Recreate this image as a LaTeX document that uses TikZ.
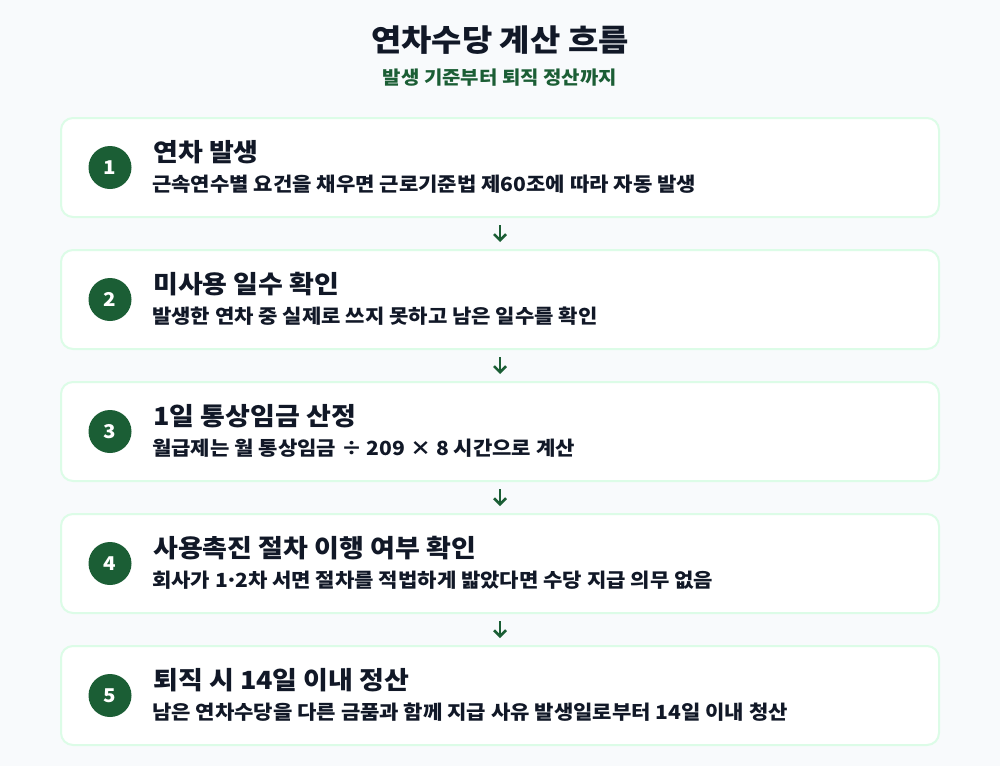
\documentclass[tikz,border=0pt]{standalone}
\usepackage{fontspec}
\usepackage{xcolor}
\setmainfont{Noto Sans CJK KR}[FakeStretch=1.08]
\usetikzlibrary{calc}
\usetikzlibrary{arrows.meta}
\definecolor{bgcol}{HTML}{F8FAFC}
\definecolor{cardline}{HTML}{DCFCE7}
\definecolor{darkgreen}{HTML}{1B5E35}
\definecolor{inkcol}{HTML}{111827}
\newcommand{\bt}[1]{\textbf{#1}}
\newcommand{\middot}{\kern-0.14em·\kern-0.14em}

\begin{document}
\begin{tikzpicture}[x=1pt,y=-1pt,>={Straight Barb[length=6pt,width=12pt]}]
			%background
			\fill [bgcol] (0,0) rectangle (1000,766);
			\useasboundingbox (0,0) rectangle (1000,766);
			%heading
			\node at (500,40) (title) [text=inkcol, font=\fontsize{30.5}{36}\selectfont] {\bt{연차수당 계산 흐름}};
			\node at (500,78) (subtitle) [text=darkgreen, font=\fontsize{18.5}{22}\selectfont] {\bt{발생 기준부터 퇴직 정산까지}};
			%cards
			\node at (500,167.5) (card1) [rectangle, rounded corners=12pt, draw=cardline, line width=2pt, fill=white, minimum width=878pt, minimum height=99pt] {};
			\node at ($(card1.center) + (0,132)$) (card2) [rectangle, rounded corners=12pt, draw=cardline, line width=2pt, fill=white, minimum width=878pt, minimum height=99pt] {};
			\node at ($(card2.center) + (0,132)$) (card3) [rectangle, rounded corners=12pt, draw=cardline, line width=2pt, fill=white, minimum width=878pt, minimum height=99pt] {};
			\node at ($(card3.center) + (0,132)$) (card4) [rectangle, rounded corners=12pt, draw=cardline, line width=2pt, fill=white, minimum width=878pt, minimum height=99pt] {};
			\node at ($(card4.center) + (0,132)$) (card5) [rectangle, rounded corners=12pt, draw=cardline, line width=2pt, fill=white, minimum width=878pt, minimum height=99pt] {};

			%numbers
			\node at ($(card1.west) + (50,0)$) (num1) [circle, fill=darkgreen, text=white, minimum size=43pt, inner sep=0pt, font=\fontsize{19}{22}\selectfont] {\bt{1}};
			\node at ($(card2.west) + (50,0)$) (num2) [circle, fill=darkgreen, text=white, minimum size=43pt, inner sep=0pt, font=\fontsize{19}{22}\selectfont] {\bt{2}};
			\node at ($(card3.west) + (50,0)$) (num3) [circle, fill=darkgreen, text=white, minimum size=43pt, inner sep=0pt, font=\fontsize{19}{22}\selectfont] {\bt{3}};
			\node at ($(card4.west) + (50,0)$) (num4) [circle, fill=darkgreen, text=white, minimum size=43pt, inner sep=0pt, font=\fontsize{19}{22}\selectfont] {\bt{4}};
			\node at ($(card5.west) + (50,0)$) (num5) [circle, fill=darkgreen, text=white, minimum size=43pt, inner sep=0pt, font=\fontsize{19}{22}\selectfont] {\bt{5}};

			%step titles
			\node [anchor=west] at ($(card1.west) + (93,-15)$) (head1) [inner sep=0pt, text=inkcol, font=\fontsize{25}{29}\selectfont] {\bt{연차 발생}};
			\node [anchor=west] at ($(card2.west) + (93,-15)$) (head2) [inner sep=0pt, text=inkcol, font=\fontsize{25}{29}\selectfont] {\bt{미사용 일수 확인}};
			\node [anchor=west] at ($(card3.west) + (93,-15)$) (head3) [inner sep=0pt, text=inkcol, font=\fontsize{25}{29}\selectfont] {\bt{1일 통상임금 산정}};
			\node [anchor=west] at ($(card4.west) + (93,-15)$) (head4) [inner sep=0pt, text=inkcol, font=\fontsize{25}{29}\selectfont] {\bt{사용촉진 절차 이행 여부 확인}};
			\node [anchor=west] at ($(card5.west) + (93,-15)$) (head5) [inner sep=0pt, text=inkcol, font=\fontsize{25}{29}\selectfont] {\bt{퇴직 시 14일 이내 정산}};

			%step texts
			\node [anchor=west] at ($(card1.west) + (92,17)$) (desc1) [inner sep=0pt, text=inkcol, font=\fontsize{19.5}{23}\selectfont] {\bt{근속연수별 요건을 채우면 근로기준법 제60조에 따라 자동 발생}};
			\node [anchor=west] at ($(card2.west) + (92,17)$) (desc2) [inner sep=0pt, text=inkcol, font=\fontsize{19.5}{23}\selectfont] {\bt{발생한 연차 중 실제로 쓰지 못하고 남은 일수를 확인}};
			\node [anchor=west] at ($(card3.west) + (92,17)$) (desc3) [inner sep=0pt, text=inkcol, font=\fontsize{19.5}{23}\selectfont] {\bt{월급제는 월 통상임금 ÷ 209 × 8 시간으로 계산}};
			\node [anchor=west] at ($(card4.west) + (92,17)$) (desc4) [inner sep=0pt, text=inkcol, font=\fontsize{19.5}{23}\selectfont] {\bt{회사가 1\middot2차 서면 절차를 적법하게 밟았다면 수당 지급 의무 없음}};
			\node [anchor=west] at ($(card5.west) + (92,17)$) (desc5) [inner sep=0pt, text=inkcol, font=\fontsize{19.5}{23}\selectfont] {\bt{남은 연차수당을 다른 금품과 함께 지급 사유 발생일로부터 14일 이내 청산}};

			%arrows
			\draw [->, darkgreen, line width=2.5pt] ($(card1.south) + (0,7)$) -- ($(card2.north) + (0,-7)$);
			\draw [->, darkgreen, line width=2.5pt] ($(card2.south) + (0,7)$) -- ($(card3.north) + (0,-7)$);
			\draw [->, darkgreen, line width=2.5pt] ($(card3.south) + (0,7)$) -- ($(card4.north) + (0,-7)$);
			\draw [->, darkgreen, line width=2.5pt] ($(card4.south) + (0,7)$) -- ($(card5.north) + (0,-7)$);
		\end{tikzpicture}
\end{document}
